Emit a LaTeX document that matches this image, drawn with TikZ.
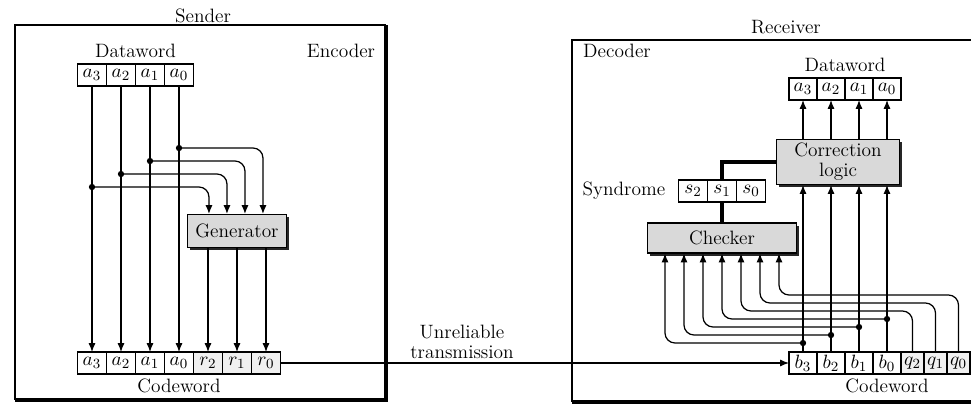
\documentclass[tikz,border=0pt]{standalone}
\usepackage{amsmath}
\usepackage{tikz}
\usetikzlibrary{calc, positioning, shadows, arrows.meta}

\begin{document}
\begin{tikzpicture}[x=0.2mm, y=-0.2mm,
                every node/.append style={font=\fontsize{11}{11.5}\selectfont},
                cell/.style={draw, line width=0.6pt, minimum width=5.8mm, minimum height=4.4mm, inner sep=0pt, outer sep=0pt},
                pcell/.style={cell, fill=gray!12},
                bcell/.style={cell, minimum width=5.6mm},
                qcell/.style={cell, fill=gray!12, minimum width=4.6mm},
                block/.style={draw, line width=0.6pt, fill=gray!30, inner sep=2pt, align=center,
                    general shadow={fill=black!85, shadow xshift=1.6pt, shadow yshift=-1.6pt}},
                wire/.style={line width=0.7pt, rounded corners=2mm},
                arr/.style={wire, -{Latex[length=5pt, width=4pt]}},
                bus/.style={line width=2.2pt},
                tap/.style={circle, fill, inner sep=0pt, minimum size=3.6pt}]
                \useasboundingbox (0,0) rectangle (971,416);
                \draw[line width=0.9pt] (386,25) -- (15,25) -- (15,400);
                \draw[line width=2pt] (15,400) -- (386,400) -- (386,25);
                \node (sender) at (203,16) {Sender};
                \node (encoder) at (341,51) {Encoder};
                \node[cell] (sd3) at (92,75) {$a_3$};
                \node[cell, right=0pt of sd3] (sd2) {$a_2$};
                \node[cell, right=0pt of sd2] (sd1) {$a_1$};
                \node[cell, right=0pt of sd1] (sd0) {$a_0$};
                \node[above=0pt of sd2.north east] (sdlabel) {Dataword};
                \node[cell] (sc3) at (92,363) {$a_3$};
                \node[cell, right=0pt of sc3] (sc2) {$a_2$};
                \node[cell, right=0pt of sc2] (sc1) {$a_1$};
                \node[cell, right=0pt of sc1] (sc0) {$a_0$};
                \node[pcell, right=0pt of sc0] (sr2) {$r_2$};
                \node[pcell, right=0pt of sr2] (sr1) {$r_1$};
                \node[pcell, right=0pt of sr1] (sr0) {$r_0$};
                \node[below=-1pt of sc0.south] (sclabel) {Codeword};
                \node[block, minimum width=19.8mm, minimum height=6.6mm] (gen) at (237,231) {Generator};
                \foreach \i/\dy/\gx in {3/101/22, 2/88/40, 1/75/58, 0/62/76} {
                    \coordinate (t\i) at ($(sd\i.south)+(0,\dy)$);
                    \coordinate (gi\i) at ($(gen.north west)+(\gx,0)$);
                    \draw[arr] (sd\i.south) -- (sc\i.north);
                    \draw[arr] (t\i) -| (gi\i);
                    \node[tap] (dot\i) at (t\i) {};
                }
                \foreach \i in {2,1,0}
                    \draw[arr] (sr\i |- gen.south) -- (sr\i.north);
                \draw[line width=0.9pt] (971,40) -- (572,40) -- (572,402);
                \draw[line width=2pt] (572,402) -- (971,402);
                \node (receiver) at (786,27) {Receiver};
                \node (decoder) at (617,51) {Decoder};
                \node[bcell] (rb3) at (803,363) {$b_3$};
                \node[bcell, right=0pt of rb3] (rb2) {$b_2$};
                \node[bcell, right=0pt of rb2] (rb1) {$b_1$};
                \node[bcell, right=0pt of rb1] (rb0) {$b_0$};
                \node[qcell, right=0pt of rb0] (rq2) {$q_2$};
                \node[qcell, right=0pt of rq2] (rq1) {$q_1$};
                \node[qcell, right=0pt of rq1] (rq0) {$q_0$};
                \node[below=-1pt of rb0.south] (rclabel) {Codeword};
                \node[bcell] (rd3) at (803,89) {$a_3$};
                \node[bcell, right=0pt of rd3] (rd2) {$a_2$};
                \node[bcell, right=0pt of rd2] (rd1) {$a_1$};
                \node[bcell, right=0pt of rd1] (rd0) {$a_0$};
                \node[above=0pt of rd2.north east] (rdlabel) {Dataword};
                \node[block, minimum width=24.6mm, minimum height=9mm] (corr) at (838,162) {Correction\\logic};
                \node[cell] (s1) at (722,191) {$s_1$};
                \node[cell, left=0pt of s1] (s2) {$s_2$};
                \node[cell, right=0pt of s1] (s0) {$s_0$};
                \node[left=4pt of s2] (synlabel) {Syndrome};
                \node[block, minimum width=29.8mm, minimum height=6mm] (chk) at (722,238) {Checker};
                \draw[bus] (corr.west) -| (s1.north);
                \draw[bus] (s1.south) -- (s1 |- chk.north);
                \foreach \i in {3,2,1,0} {
                    \draw[arr] (rb\i.north) -- (rb\i |- corr.south);
                    \draw[arr] (rd\i |- corr.north) -- (rd\i.south);
                }
                \foreach \k in {1,...,7}
                    \coordinate (k\k) at ({665+19*(\k-1)}, {343-8*(\k-1)});
                \foreach \k/\b in {1/3, 2/2, 3/1, 4/0} {
                    \coordinate (tb\b) at (rb\b |- k\k);
                    \draw[arr] (tb\b) -- (k\k) -- (k\k |- chk.south);
                    \node[tap] (rdot\b) at (tb\b) {};
                }
                \foreach \k/\q in {5/2, 6/1, 7/0}
                    \draw[arr] (rq\q.north) -- (rq\q |- k\k) -- (k\k) -- (k\k |- chk.south);
                \draw[arr] (sr0.east) -- (rb3.west);
                \node[align=center] (unrel) at (462,342) {Unreliable\\transmission};
            \end{tikzpicture}
\end{document}
